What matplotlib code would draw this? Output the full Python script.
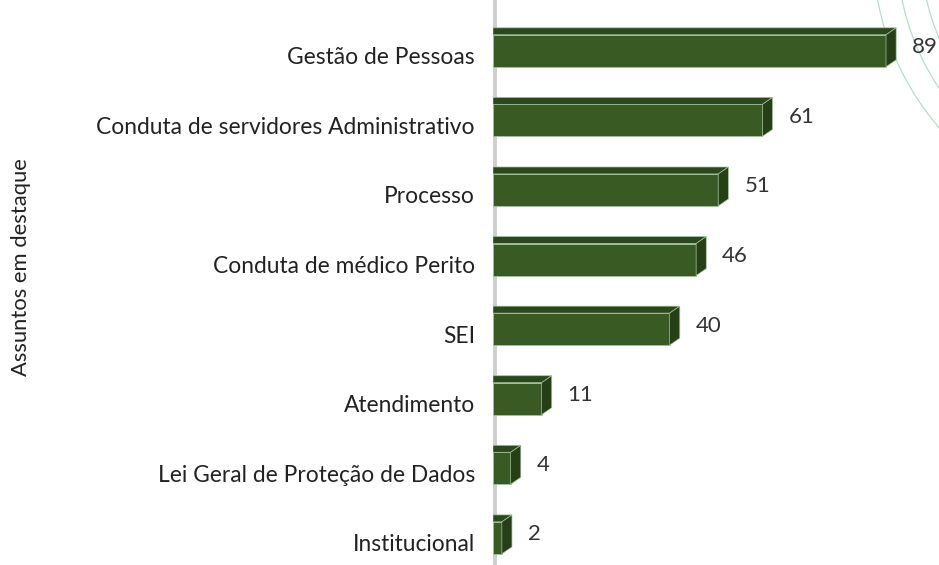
import numpy as np
import matplotlib.pyplot as plt
import matplotlib.transforms as mtransforms
from matplotlib.patches import Polygon, Arc

# data
categories = ["Gestão de Pessoas", "Conduta de servidores Administrativo", "Processo",
              "Conduta de médico Perito", "SEI", "Atendimento",
              "Lei Geral de Proteção de Dados", "Institucional"]
values = [89, 61, 51, 46, 40, 11, 4, 2]
axis_title = "Assuntos em destaque"

front = "#3a5a24"
side = "#263f17"
top = "#2b471b"
edge = "#9fc49a"

plt.rcParams['font.family'] = ['Lato', 'DejaVu Sans']

fig = plt.figure(figsize=(9.39, 5.65), dpi=100)

# decorative arcs in the top right corner
bg = fig.add_axes([0, 0, 1, 1], zorder=0)
bg.set_xlim(0, 939)
bg.set_ylim(565, 0)
bg.axis('off')
for r in (224, 248, 272):
    bg.add_patch(Arc((1145, -50), 2 * r, 2 * r, theta1=90, theta2=270,
                     color="#b4dfca", lw=0.9))

ax = fig.add_axes([0.525, 0.0, 0.475, 1.0], zorder=1)
ax.patch.set_alpha(0)
y = np.arange(len(values))
h = 0.46
dx = 2.3
dy = 0.1

ax.barh(y, values, height=h, color=front, edgecolor=edge, linewidth=0.6, zorder=3)
for yi, v in zip(y, values):
    y0 = yi - h / 2
    y1 = yi + h / 2
    ax.add_patch(Polygon([(0, y0), (v, y0), (v + dx, y0 - dy), (0, y0 - dy)],
                         closed=True, facecolor=top, edgecolor=edge, lw=0.5, zorder=3))
    ax.add_patch(Polygon([(v, y0), (v + dx, y0 - dy), (v + dx, y1 - dy), (v, y1)],
                         closed=True, facecolor=side, edgecolor=edge, lw=0.5, zorder=3))
    ax.annotate(str(v), (v + dx, yi - dy / 2), xytext=(11.5, 0), textcoords='offset points',
                va='center', ha='left', fontsize=16, color="#333333")

# back wall of the 3D chart
ax.axvline(0, color="#cfcfcf", lw=5, zorder=1)

ax.set_xlim(0, 101)
ax.set_ylim(7.39, -0.73)
ax.set_yticks(y)
ax.set_yticklabels(categories, fontsize=16.4, color="#222222")
ax.tick_params(axis='y', length=0, pad=13)
ax.set_xticks([])
for s in ax.spines.values():
    s.set_visible(False)

# labels sit a little below the bar centre in the reference
shift = mtransforms.ScaledTranslation(0, -5 / 100, fig.dpi_scale_trans)
for lab in ax.get_yticklabels():
    lab.set_transform(lab.get_transform() + shift)

fig.text(0.022, 0.527, axis_title, rotation=90, va='center', ha='center',
         fontsize=15.8, color="#222222")

fig.savefig("out.png", dpi=100)
